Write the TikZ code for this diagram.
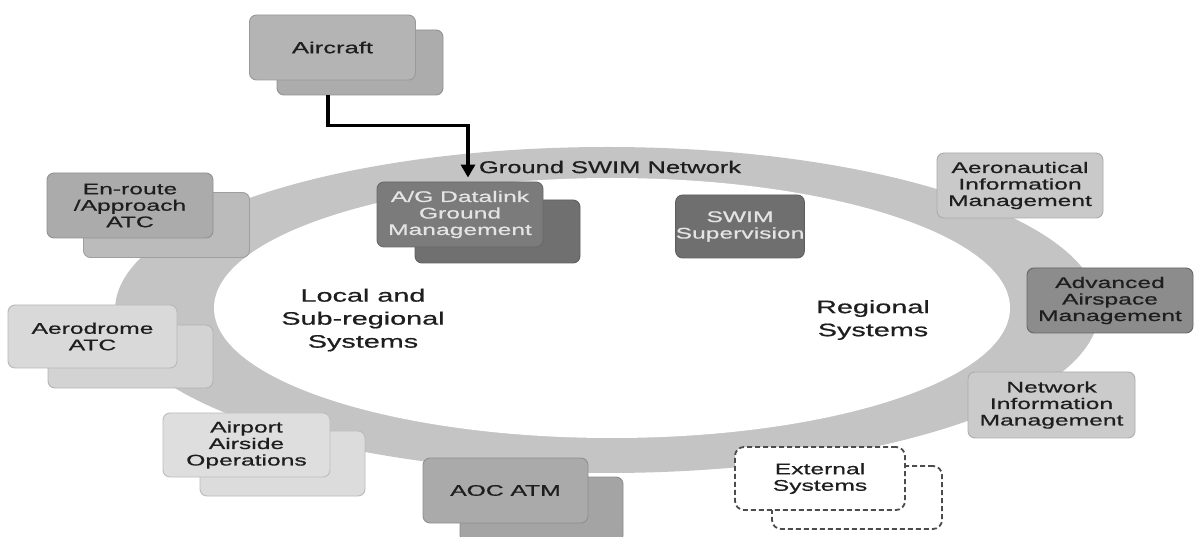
\documentclass[tikz,border=0pt]{standalone}
\usepackage{fontspec}
\setmainfont[FakeStretch=1.6,FakeBold=0.7]{Liberation Sans}
\newfontfamily\gswfont[FakeStretch=1.5,FakeBold=0.7]{Liberation Sans}
\usetikzlibrary{arrows.meta}
\definecolor{ringc}{HTML}{C4C4C4}
\definecolor{txt}{HTML}{1E1E1E}
\definecolor{ltxt}{HTML}{E4E4E4}
\definecolor{cAir}{HTML}{B4B4B4}
\definecolor{cAirS}{HTML}{ACACAC}
\definecolor{cEn}{HTML}{ABABAB}
\definecolor{cEnS}{HTML}{BBBBBB}
\definecolor{cAd}{HTML}{D9D9D9}
\definecolor{cAdS}{HTML}{D3D3D3}
\definecolor{cAp}{HTML}{DEDEDE}
\definecolor{cApS}{HTML}{DCDCDC}
\definecolor{cAoc}{HTML}{AAAAAA}
\definecolor{cAocS}{HTML}{A4A4A4}
\definecolor{cAg}{HTML}{7B7B7B}
\definecolor{cAgS}{HTML}{707070}
\definecolor{cSw}{HTML}{6F6F6F}
\definecolor{cAer}{HTML}{C9C9C9}
\definecolor{cAdv}{HTML}{8C8C8C}
\definecolor{cNet}{HTML}{CBCBCB}
\begin{document}
\begin{tikzpicture}[x=1pt,y=-1pt,
  box/.style={rounded corners=7pt, inner sep=0pt, align=center,
    minimum width=166pt, minimum height=65pt, fill=#1, draw=#1!85!black,
    line width=0.9pt, text=txt, font=\fontsize{15.4}{16.5}\selectfont},
  dbox/.style={rounded corners=9pt, inner sep=0pt, align=center,
    minimum width=170pt, minimum height=63pt, fill=white, draw=black!70,
    line width=1.8pt, dash pattern=on 5pt off 3pt, text=txt,
    font=\fontsize{15.4}{16.5}\selectfont},
  big/.style={align=center, text=txt, font=\fontsize{18}{23}\selectfont},
  conn/.style={line width=3.5pt, -{Triangle[length=13pt,width=14pt]}, black}
]
\useasboundingbox[fill=white] (0,0) rectangle (1195,537);
% ring
\fill[ringc] (607,310) ellipse [x radius=492, y radius=163];
\fill[white] (612,308) ellipse [x radius=398, y radius=130];
\node[text=txt, font=\gswfont\fontsize{17}{20}\selectfont] (gsn) at (610,167) {Ground SWIM Network};
\node[big] (loc) at (363,320) {Local and\\Sub-regional\\Systems};
\node[big] (reg) at (873,320) {Regional\\Systems};
% shadows
\node[box=cAirS] (acS) at (360,62.5) {};
\node[box=cEnS]  (enS) at (166.5,225) {};
\node[box=cAdS, minimum width=165pt, minimum height=63pt] (adS) at (130.5,356.5) {};
\node[box=cApS, minimum width=165pt] (apS) at (282.5,463.5) {};
\node[box=cAocS, minimum width=163pt] (aocS) at (541.5,509.5) {};
\node[dbox] (exS) at (857,497.5) {};
\node[box=cAgS, minimum width=165pt, minimum height=63pt] (agS) at (497.5,231.5) {};
% main boxes
\node[box=cAir, font=\fontsize{16}{18}\selectfont] (ac) at (332.5,47.5) {Aircraft};
\node[box=cEn] (en) at (130,205.5) {En-route\\/Approach\\ATC};
\node[box=cAd, minimum width=169pt, minimum height=63pt] (ad) at (92.5,336.5) {Aerodrome\\ATC};
\node[box=cAp, minimum width=167pt, minimum height=64pt] (ap) at (246.5,445) {Airport\\Airside\\Operations};
\node[box=cAoc, minimum width=165pt] (aoc) at (505.5,490.5) {AOC ATM};
\node[dbox] (ex) at (820,478.5) {External\\Systems};
\node[box=cAg, text=ltxt] (ag) at (460,214.5) {A/G Datalink\\Ground\\Management};
\node[box=cSw, text=ltxt, minimum width=126pt, minimum height=63pt] (sw) at (740,226.5) {SWIM\\Supervision};
\node[box=cAer] (aer) at (1020,185.5) {Aeronautical\\Information\\Management};
\node[box=cAdv, draw=black!60] (adv) at (1110,300.5) {Advanced\\Airspace\\Management};
\node[box=cNet, minimum width=167pt, minimum height=66pt] (net) at (1051.5,405) {Network\\Information\\Management};
% connector
\draw[conn] ([xshift=-4.5pt]ac.center |- acS.south) -- ++(0,30) -| ([xshift=8pt,yshift=4pt]ag.north);
\end{tikzpicture}
\end{document}
